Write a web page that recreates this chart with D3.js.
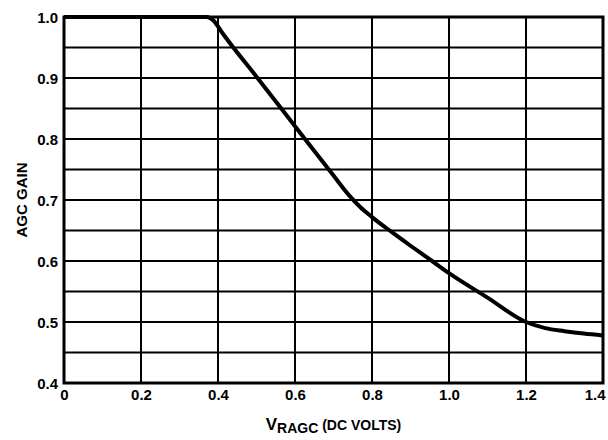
<!DOCTYPE html>
<html>
<head>
<meta charset="utf-8">
<script src="https://cdn.jsdelivr.net/npm/d3@7"></script>
<style>
  body { margin: 0; background: #fff; }
  svg { display: block; font-family: "Liberation Sans", Arial, sans-serif; }
</style>
</head>
<body>
<div id="chart"></div>
<script>
// AGC gain vs V_RAGC
const vragc = [0, 0.2, 0.37, 0.39, 0.41, 0.5, 0.6, 0.7, 0.74, 0.77, 0.8, 0.85, 0.9, 0.956, 1.0, 1.1, 1.2, 1.25, 1.3, 1.35, 1.4]
const gain  = [1.0, 1.0, 1.0, 0.993, 0.975, 0.902, 0.821, 0.74, 0.708, 0.688, 0.672, 0.648, 0.625, 0.6, 0.58, 0.54, 0.5, 0.49, 0.485, 0.481, 0.478]

const xTicks = [0, 0.2, 0.4, 0.6, 0.8, 1.0, 1.2, 1.4]
const xLabels = ["0", "0.2", "0.4", "0.6", "0.8", "1.0", "1.2", "1.4"]
const yGrid = [0.4, 0.45, 0.5, 0.55, 0.6, 0.65, 0.7, 0.75, 0.8, 0.85, 0.9, 0.95, 1.0]
const yLabelTicks = [0.4, 0.5, 0.6, 0.7, 0.8, 0.9, 1.0]

const width = 608,
      height = 440,
      margin = ({ top: 17, right: 5, bottom: 57, left: 64 })

let svg = d3.select("#chart")
    .append("svg")
    .attr("width", width)
    .attr("height", height)

let x = d3.scaleLinear()
    .domain([0, 1.4])
    .range([margin.left, width - margin.right])
let y = d3.scaleLinear()
    .domain([0.4, 1.0])
    .range([height - margin.bottom, margin.top])

// horizontal grid every 0.05
svg.append("g")
    .selectAll("line")
    .data(yGrid)
    .join("line")
    .attr("x1", x(0))
    .attr("x2", x(1.4))
    .attr("y1", d => y(d))
    .attr("y2", d => y(d))
    .attr("stroke", "#000")
    .attr("stroke-width", 2)

// vertical grid every 0.2
svg.append("g")
    .selectAll("line")
    .data(xTicks)
    .join("line")
    .attr("x1", d => x(d))
    .attr("x2", d => x(d))
    .attr("y1", y(0.4))
    .attr("y2", y(1.0))
    .attr("stroke", "#000")
    .attr("stroke-width", 2)

// frame
svg.append("rect")
    .attr("x", x(0))
    .attr("y", y(1.0))
    .attr("width", x(1.4) - x(0))
    .attr("height", y(0.4) - y(1.0))
    .attr("fill", "none")
    .attr("stroke", "#000")
    .attr("stroke-width", 3)

// x axis labels
svg.append("g")
    .attr("transform", `translate(0,${y(0.4) + 6})`)
    .call(d3.axisBottom(x).tickValues(xTicks).tickSize(0).tickPadding(0)
        .tickFormat((d, i) => xLabels[i]))
    .call(g => g.select(".domain").remove())
    .call(g => g.selectAll("text")
        .attr("fill", "#000")
        .style("font-size", "15px")
        .style("font-weight", "bold"))
    .call(g => g.selectAll("text").filter(d => d === 1.4)
        .attr("text-anchor", "end")
        .attr("x", 2))

// y axis labels
svg.append("g")
    .attr("transform", `translate(${x(0) - 6},0)`)
    .call(d3.axisLeft(y).tickValues(yLabelTicks).tickSize(0).tickPadding(0)
        .tickFormat(d3.format(".1f")))
    .call(g => g.select(".domain").remove())
    .call(g => g.selectAll("text")
        .attr("fill", "#000")
        .style("font-size", "15px")
        .style("font-weight", "bold")
        .attr("dy", "0.36em"))

// curve
let line = d3.line()
    .x((d, i) => x(vragc[i]))
    .y(d => y(d))
    .curve(d3.curveMonotoneX)

svg.append("path")
    .datum(gain)
    .attr("fill", "none")
    .attr("stroke", "#000")
    .attr("stroke-width", 4)
    .attr("stroke-linejoin", "round")
    .attr("d", line)

// y title
svg.append("text")
    .attr("transform", `translate(27,${(y(0.4) + y(1.0)) / 2}) rotate(-90)`)
    .attr("text-anchor", "middle")
    .style("font-size", "15px")
    .style("font-weight", "bold")
    .text("AGC GAIN")

// x title
let xt = svg.append("text")
    .attr("x", (x(0) + x(1.4)) / 2)
    .attr("y", 430)
    .attr("text-anchor", "middle")
    .style("font-weight", "bold")
xt.append("tspan").style("font-size", "17px").text("V")
xt.append("tspan").style("font-size", "14px").attr("dy", 3).text("RAGC")
xt.append("tspan").style("font-size", "14px").attr("dy", -3).text(" (DC VOLTS)")
</script>
</body>
</html>
